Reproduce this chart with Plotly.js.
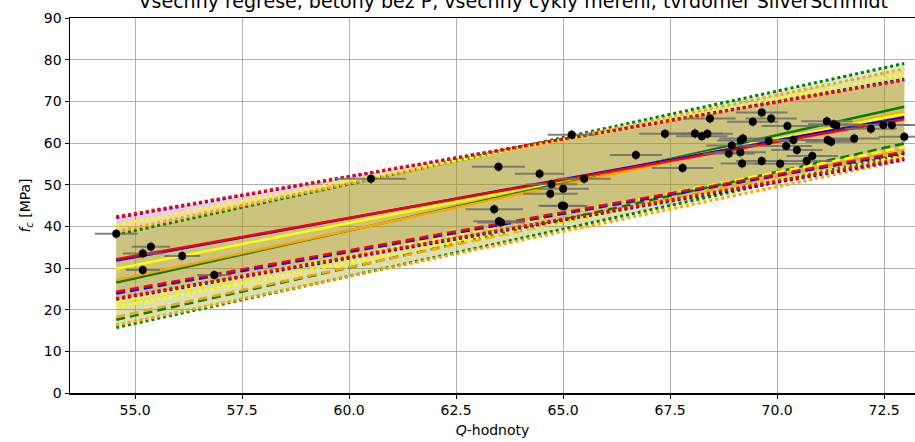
<!DOCTYPE html>
<html>
<head>
<meta charset="utf-8">
<script src="https://cdn.plot.ly/plotly-3.0.1.min.js"></script>
<style>html,body{margin:0;padding:0;background:#fff;}#chart{width:915px;height:442px;}</style>
</head>
<body>
<div id="chart"></div>
<script>
// Q range of the regression curves (min and max measured Q)
const qEnds = [54.56, 72.97];

// Regression series (values at qEnds)
const seriesNames = ["red", "blue", "yellow", "orange", "green"];
const seriesColors = ["#ff0000", "#0000ff", "#ffff00", "#ffa500", "#008000"];
const fillAlpha = [0.1, 0.1, 0.22, 0.18, 0.14];
const fitRed = [32.1, 65.7];
const fitBlue = [31.8, 66.2];
const fitYellow = [29.8, 67.0];
const fitOrange = [27.1, 67.5];
const fitGreen = [26.5, 68.7];

const upperRed = [42.3, 75.1];
const upperBlue = [42.1, 75.3];
const upperYellow = [40.3, 76.4];
const upperOrange = [38.8, 77.8];
const upperGreen = [38.0, 79.1];

const dashRed = [24.3, 57.9];
const dashBlue = [23.9, 57.6];
const dashYellow = [21.9, 59.0];
const dashOrange = [18.3, 58.5];
const dashGreen = [17.6, 59.9];

const lowerRed = [22.7, 56.3];
const lowerBlue = [22.5, 56.0];
const lowerYellow = [20.6, 56.9];
const lowerOrange = [16.3, 55.9];
const lowerGreen = [15.7, 57.4];

// Measured points: Q, f_c, Q half-range
const qVals = [54.56,55.18,55.18,55.37,56.10,56.85,60.51,65.20,63.49,64.45,64.73,64.70,65.00,65.49,63.39,63.50,63.55,64.97,65.02,
  68.43,69.43,67.38,68.08,68.24,68.37,69.20,69.15,68.94,66.70,68.87,69.14,69.18,67.79,69.64,69.86,70.24,71.16,71.32,71.38,
  72.19,72.48,72.68,72.97,69.80,70.38,70.21,70.46,71.18,71.26,71.80,70.82,70.69,69.64,70.07];
const fcVals = [38.2,29.5,33.5,35.1,32.9,28.3,51.4,62.0,54.3,52.6,50.1,47.8,49.0,51.4,44.1,41.2,40.9,44.95,44.9,
  65.9,65.1,62.2,62.3,61.6,62.2,61.1,60.6,59.4,57.1,57.5,57.8,55.1,54.0,67.3,65.9,64.1,65.2,64.5,64.2,
  63.4,64.3,64.3,61.5,60.5,60.7,59.3,58.3,60.7,60.3,61.1,56.9,55.7,55.7,55.0];
const qErr = [0.5,0.4,0.47,0.45,0.42,0.4,0.82,0.56,0.62,0.58,0.6,0.64,0.6,0.62,0.67,0.6,0.55,0.55,0.55,
  0.6,0.6,0.6,0.65,0.6,0.6,0.55,0.55,0.6,0.61,0.6,0.6,0.5,0.72,0.6,0.6,0.6,0.6,0.6,0.6,
  0.6,0.6,0.6,0.6,0.6,0.6,0.6,0.6,0.6,0.6,0.6,0.6,0.6,0.6,0.6];
const fcErr = 1.2;

const xTicks = [55.0, 57.5, 60.0, 62.5, 65.0, 67.5, 70.0, 72.5];
const yTicks = [0, 10, 20, 30, 40, 50, 60, 70, 80, 90];

const fits = [fitRed, fitBlue, fitYellow, fitOrange, fitGreen];
const uppers = [upperRed, upperBlue, upperYellow, upperOrange, upperGreen];
const dashes = [dashRed, dashBlue, dashYellow, dashOrange, dashGreen];
const lowers = [lowerRed, lowerBlue, lowerYellow, lowerOrange, lowerGreen];

function rgba(hex, a) {
  const r = parseInt(hex.slice(1,3),16), g = parseInt(hex.slice(3,5),16), b = parseInt(hex.slice(5,7),16);
  return `rgba(${r},${g},${b},${a})`;
}

const traces = [];
// prediction bands (fills)
for (let i = 0; i < 5; i++) {
  traces.push({
    x: qEnds.concat(qEnds.slice().reverse()),
    y: uppers[i].concat(lowers[i].slice().reverse()),
    fill: 'toself', fillcolor: rgba(seriesColors[i], fillAlpha[i]),
    line: {width: 0}, mode: 'lines', hoverinfo: 'skip', showlegend: false
  });
}
// bound lines (drawn: green, orange, yellow, blue, red so red ends on top)
const drawOrder = [4, 3, 2, 1, 0];
for (const i of drawOrder) {
  const c = seriesColors[i];
  traces.push({x: qEnds, y: uppers[i], mode: 'lines', line: {color: c, width: 3, dash: 'dot'}, showlegend: false});
  traces.push({x: qEnds, y: lowers[i], mode: 'lines', line: {color: c, width: 3, dash: 'dot'}, showlegend: false});
  traces.push({x: qEnds, y: dashes[i], mode: 'lines', line: {color: c, width: 2.5, dash: '9px,5px'}, showlegend: false});
}
for (const i of drawOrder) {
  traces.push({x: qEnds, y: fits[i], mode: 'lines', line: {color: seriesColors[i], width: 2.5}, showlegend: false});
}
// measurements
traces.push({
  x: qVals, y: fcVals, mode: 'markers',
  marker: {color: '#000', size: 8},
  error_x: {type: 'data', array: qErr, color: 'rgba(110,110,110,0.85)', thickness: 2, width: 0},
  error_y: {type: 'constant', value: fcErr, color: 'rgba(110,110,110,0.85)', thickness: 2, width: 0},
  showlegend: false
});

const font = {family: 'DejaVu Sans', size: 14, color: '#000'};
const layout = {
  width: 915, height: 442,
  margin: {l: 70, r: 0, t: 18, b: 49},
  paper_bgcolor: '#fff', plot_bgcolor: '#fff',
  font: font,
  title: {text: 'Všechny regrese, betony bez P, všechny cykly měření, tvrdoměr SilverSchmidt',
          font: {family: 'DejaVu Sans', size: 19, color: '#000'},
          x: 0.561, xanchor: 'center', y: 0.998, yanchor: 'middle', yref: 'container'},
  xaxis: {
    range: [53.48, 73.22], tickvals: xTicks, ticktext: xTicks.map(v => v.toFixed(1)),
    showgrid: true, gridcolor: '#b0b0b0', gridwidth: 1,
    showline: true, linecolor: '#000', linewidth: 1.5, mirror: true,
    ticks: 'outside', ticklen: 4, tickcolor: '#000', zeroline: false,
    title: {text: '<i>Q</i>-hodnoty', font: font, standoff: 8}
  },
  yaxis: {
    range: [0, 90], tickvals: yTicks,
    showgrid: true, gridcolor: '#b0b0b0', gridwidth: 1,
    showline: true, linecolor: '#000', linewidth: 1.5, mirror: true,
    ticks: 'outside', ticklen: 4, tickcolor: '#000', zeroline: false,
    title: {text: '<i>f</i><sub><i>c</i></sub> [MPa]', font: font, standoff: 10}
  }
};
Plotly.newPlot('chart', traces, layout, {staticPlot: true});
</script>
</body>
</html>
